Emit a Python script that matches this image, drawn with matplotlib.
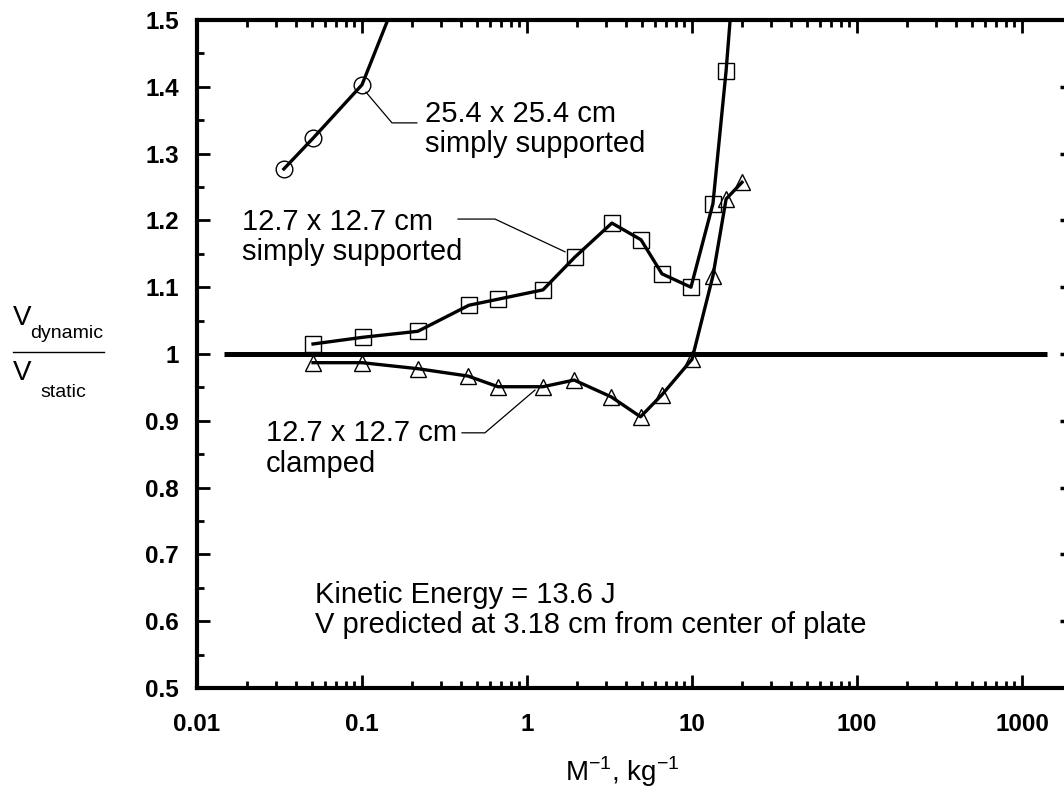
import matplotlib
matplotlib.use("Agg")
import matplotlib.pyplot as plt
from matplotlib.lines import Line2D
from matplotlib.ticker import LogLocator, MultipleLocator, FixedLocator, NullFormatter

plt.rcParams['font.family'] = ['Liberation Sans', 'DejaVu Sans']

# ---- data: V_dynamic / V_static versus 1/M ----
# 25.4 x 25.4 cm plate, simply supported (last point leaves the plot)
circ_x = [0.0336, 0.0505, 0.100, 0.20]
circ_y = [1.277, 1.323, 1.403, 1.59]

# 12.7 x 12.7 cm plate, simply supported
sq_x = [0.0505, 0.101, 0.218, 0.445, 0.667, 1.25, 1.95, 3.27, 4.91, 6.58, 9.86, 13.4, 16.1, 18.2]
sq_y = [1.015, 1.025, 1.034, 1.073, 1.082, 1.096, 1.145, 1.196, 1.171, 1.120, 1.100, 1.225, 1.424, 1.59]

# 12.7 x 12.7 cm plate, clamped
tri_x = [0.0505, 0.100, 0.218, 0.439, 0.667, 1.25, 1.93, 3.23, 4.88, 6.58, 10.0, 13.4, 16.1, 20.1]
tri_y = [0.987, 0.987, 0.978, 0.967, 0.951, 0.951, 0.961, 0.936, 0.906, 0.939, 0.992, 1.117, 1.232, 1.257]

# static reference line
ref_x = [0.0146, 1413]
ref_y = [1.0, 1.0]

y_ticks = [0.5, 0.6, 0.7, 0.8, 0.9, 1.0, 1.1, 1.2, 1.3, 1.4, 1.5]
y_labels = ['0.5', '0.6', '0.7', '0.8', '0.9', '1', '1.1', '1.2', '1.3', '1.4', '1.5']
x_ticks = [0.01, 0.1, 1, 10, 100, 1000]
x_labels = ['0.01', '0.1', '1', '10', '100', '1000']

W, H = 1064, 789
fig = plt.figure(figsize=(W / 100, H / 100), dpi=100)
ax = fig.add_axes([197 / W, 1 - 688 / H, (1066 - 197) / W, (688 - 20) / H])

ax.set_xscale('log')
ax.set_xlim(0.01, 1849)
ax.set_ylim(0.5, 1.5)

# curves
ax.plot(ref_x, ref_y, color='black', lw=3.6, solid_capstyle='butt')
ax.plot(circ_x, circ_y, color='black', lw=2.4, marker='o', ms=12,
        mfc='none', mec='black', mew=1.0)
ax.plot(sq_x, sq_y, color='black', lw=2.4, marker='s', ms=11.5,
        mfc='none', mec='black', mew=1.0)
ax.plot(tri_x, tri_y, color='black', lw=2.4, marker='^', ms=11.5,
        mfc='none', mec='black', mew=1.0)

# labels with leader lines (y given at the baseline of the last line)
txt = dict(fontsize=21, color='black', va='baseline', ha='left', linespacing=1.1)
ax.plot([0.1057, 0.152, 0.215], [1.392, 1.346, 1.346], color='black', lw=0.9)
ax.text(0.241, 1.302, "25.4 x 25.4 cm\nsimply supported", **txt)

ax.plot([0.382, 0.640, 1.70], [1.202, 1.202, 1.153], color='black', lw=0.9)
ax.text(0.01874, 1.141, "12.7 x 12.7 cm\nsimply supported", **txt)

ax.plot([0.404, 0.556, 1.118], [0.882, 0.882, 0.946], color='black', lw=0.9)
ax.text(0.0262, 0.824, "12.7 x 12.7 cm\nclamped", **txt)

ax.text(0.0519, 0.582, "Kinetic Energy = 13.6 J\nV predicted at 3.18 cm from center of plate", **txt)

# axes frame and ticks
for side in ['left', 'bottom', 'top']:
    ax.spines[side].set_linewidth(3)
ax.spines['right'].set_visible(False)

ax.xaxis.set_major_locator(FixedLocator(x_ticks))
ax.set_xticklabels(x_labels)
ax.xaxis.set_minor_locator(LogLocator(base=10, subs=range(2, 10), numticks=20))
ax.xaxis.set_minor_formatter(NullFormatter())
ax.set_yticks(y_ticks)
ax.set_yticklabels(y_labels)
ax.yaxis.set_minor_locator(MultipleLocator(0.05))

ax.tick_params(axis='both', which='both', direction='in', top=True, right=False)
ax.tick_params(axis='both', which='major', length=9.5, width=2)
ax.tick_params(axis='both', which='minor', length=5, width=2)
ax.tick_params(axis='y', which='major', pad=13)
ax.tick_params(axis='x', which='major', pad=18)
for lab in ax.get_xticklabels() + ax.get_yticklabels():
    lab.set_fontsize(17.5)
    lab.set_fontweight('bold')

# short ticks along the right edge
sec = ax.secondary_yaxis('right')
sec.set_yticks(y_ticks[1:-1])
sec.tick_params(direction='in', length=4, width=2.5, labelright=False)
sec.spines['right'].set_visible(False)

ax.set_xlabel(r"M$^{\mathregular{-1}}$, kg$^{\mathregular{-1}}$", fontsize=20)
ax.xaxis.set_label_coords((622 - 197) / (1066 - 197), -0.099)

# stacked ratio label on the left
def ftext(px, py, s, size):
    fig.text(px / W, 1 - py / H, s, fontsize=size, ha='left', va='baseline')

ftext(13, 325, "V", 20)
ftext(30, 338, "dynamic", 14)
ftext(13, 380, "V", 20)
ftext(40, 397, "static", 14)
fig.add_artist(Line2D([13 / W, 104 / W], [1 - 352 / H, 1 - 352 / H],
                      color='black', lw=1.0))

plt.savefig("out.png", dpi=100)
